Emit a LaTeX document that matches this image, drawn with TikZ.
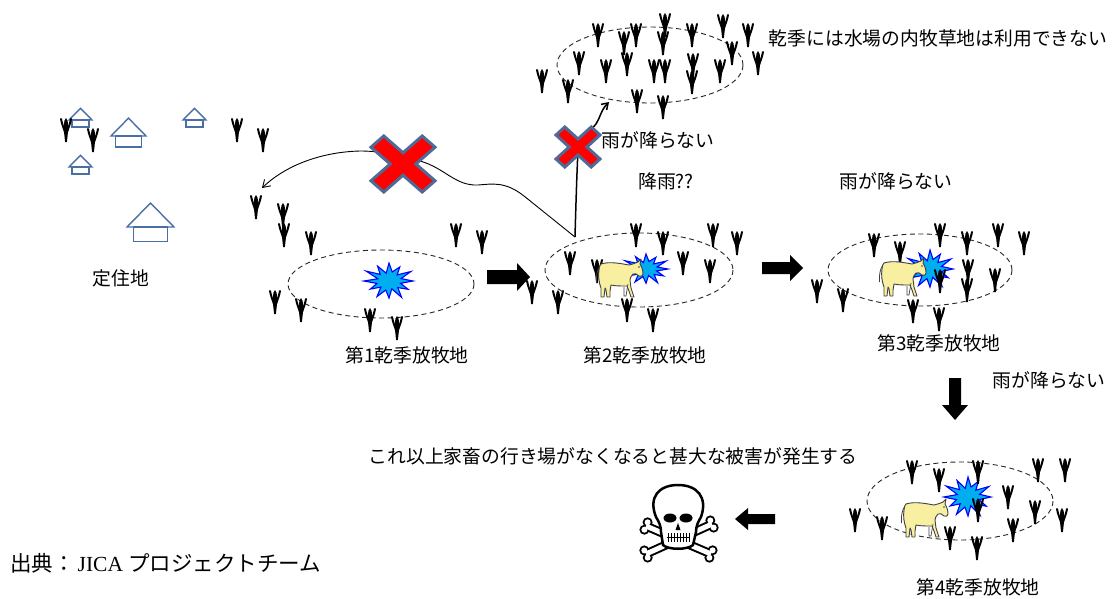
\documentclass[tikz,border=0pt]{standalone}
\usepackage{fontspec}
\newfontfamily\jp{Noto Sans CJK JP}
\newfontfamily\tms{Liberation Serif}
\usetikzlibrary{arrows.meta}
\definecolor{houseblue}{HTML}{4A6FA5}
\definecolor{cowfill}{HTML}{F8F0A0}
\definecolor{xborder}{HTML}{4F6A96}
\begin{document}
\begin{tikzpicture}[x=1pt,y=-1pt,
  lbl/.style={font=\jp\fontsize{18.8}{22}\selectfont, inner sep=0pt},
  zone/.style={draw=black!85, line width=0.9pt, dash pattern=on 5pt off 3.5pt},
  tuft/.pic={
    \fill (-0.9,12) -- (-2.1,1) -- (-1.7,-9) -- (0,-12) -- (1.7,-9) -- (2.1,1) -- (0.9,12) -- cycle;
    \draw[line width=2pt, line cap=round] (-0.5,3) .. controls (-2.5,-2) and (-4,-6) .. (-5,-11);
    \draw[line width=2pt, line cap=round] (0.5,3) .. controls (2.5,-2) and (4,-6) .. (5,-11);
  },
  house/.pic={
    \draw[houseblue, line width=1.4pt, line join=miter] (-1,0) -- (0,-1.02) -- (1,0) -- cycle;
    \draw[houseblue, line width=1.4pt] (-0.73,0) rectangle (0.73,0.62);
  },
  burst/.pic={
    \filldraw[fill=cyan, draw=blue, line width=1.1pt, line join=miter]
      (0:1) -- (15:.5) -- (30:.92) -- (45:.52) -- (60:1.05) -- (75:.45) -- (90:.95)
      -- (105:.52) -- (120:1) -- (135:.48) -- (150:.9) -- (165:.52) -- (180:1.05)
      -- (195:.48) -- (210:1.1) -- (225:.52) -- (240:.95) -- (255:.45) -- (270:1)
      -- (285:.52) -- (300:.9) -- (315:.48) -- (330:1.05) -- (345:.52) -- cycle;
  },
  nogo/.pic={
    \filldraw[fill=red, draw=xborder, line width=3pt, line join=miter]
      (-1,-0.6) -- (-0.6,-1) -- (0,-0.4) -- (0.6,-1) -- (1,-0.6) -- (0.4,0)
      -- (1,0.6) -- (0.6,1) -- (0,0.4) -- (-0.6,1) -- (-1,0.6) -- (-0.4,0) -- cycle;
  },
  cow/.pic={
    \draw[black!75, line width=0.8pt] (5,8) .. controls (2,12) and (1,18) .. (1.5,25);
    \filldraw[fill=cowfill, draw=black!75, line width=0.9pt, line join=round]
      (6,6) .. controls (15,3) and (28,6) .. (34,7)
      .. controls (38,6) and (41,5) .. (43,4) -- (46,1) -- (45,6)
      .. controls (47,9) and (48,13) .. (48,16)
      .. controls (48,18) and (46,19) .. (44,18)
      .. controls (42,16) and (40,15) .. (38,16)
      .. controls (36,18) and (35,20) .. (35,22)
      -- (36,30) -- (38,36) -- (39,39) -- (36,39) -- (34,33) -- (32,28)
      .. controls (25,28) and (20,28) .. (16,27)
      -- (15,33) -- (15,39) -- (12,39) -- (11,32) -- (10,30) -- (9,39) -- (6,39) -- (6,30)
      .. controls (4,25) and (3,18) .. (4,12) .. controls (4,9) and (5,7) .. (6,6) -- cycle;
    \draw[black!75, line width=0.7pt] (33,26) -- (31,38) -- (29,38) -- (29,29);
    \fill[black!75] (44,9) circle (0.8);
  }]

\useasboundingbox[fill=white] (0,0) rectangle (1116,598);

% grazing zones
\draw[zone] (650,65) ellipse [x radius=93, y radius=38];
\draw[zone] (381,284) ellipse [x radius=93, y radius=34];
\draw[zone] (639,270) ellipse [x radius=94, y radius=37];
\draw[zone] (920,270) ellipse [x radius=92, y radius=36];
\draw[zone] (960,501) ellipse [x radius=93, y radius=39];

% houses of the settlement
\pic[scale=11.5] at (80.5,120) {house};
\pic[scale=17.5] at (128.5,136) {house};
\pic[scale=11.5] at (194.5,120) {house};
\pic[scale=11.5] at (80.5,167) {house};
\pic[scale=23.5] at (150.5,227) {house};

% empty grass bursts
\pic[xscale=24,yscale=18] at (389,281) {burst};
\pic[xscale=22,yscale=15] at (646,269) {burst};
\pic[xscale=23,yscale=19] at (930,269) {burst};
\pic[xscale=23,yscale=20] at (968,497) {burst};

% grass
\foreach \p in {(598,35),(624,43),(627,64),(636,35),(665,25),(663,43),(692,35),(723,26),
  (748,35),(732,53),(758,63),(579,63),(606,71),(654,71),(665,71),(693,65),(692,82),(720,71),
  (542,81),(568,91),(637,101),(663,107),
  (66,130),(93,140),(237,130),(263,140),(256,207),(283,215),(284,235),(311,243),(456,235),
  (482,242),(275,302),(301,310),(370,320),(397,328),
  (532,292),(558,302),(570,263),(597,271),(636,235),(663,243),(683,263),(710,271),(713,235),
  (737,243),(627,310),(653,320),
  (874,245),(900,253),(940,235),(967,243),(998,235),(1024,243),(817,291),(843,300),(940,281),
  (968,271),(967,290),(995,280),(913,311),(939,319),
  (912,472),(939,480),(978,472),(1038,470),(1065,470),(978,510),(1008,497),(1035,512),
  (855,520),(882,528),(950,538),(977,548),(1013,530),(1062,520)}
  \pic at \p {tuft};

% cattle
\pic at (595,258) {cow};
\pic at (878,257) {cow};
\pic at (900,498) {cow};

% routes
\coordinate (e2top) at (575,237);
\coordinate (village) at (262,188);
\coordinate (pond) at (609,102);
\draw[line width=0.9pt, -{Straight Barb[length=7pt,width=9pt]}] (e2top) -- (524,196)
  .. controls (505,181) and (492,184) .. (478,185)
  .. controls (455,186) and (445,168) .. (420,161)
  .. controls (400,155) and (380,151) .. (360,151)
  .. controls (320,152) and (285,166) .. (village);
\draw[line width=1.5pt, -{Straight Barb[length=6pt,width=8pt]}] (e2top)
  .. controls (576,200) and (577,170) .. (578,150)
  .. controls (579,135) and (590,132) .. (596,124)
  .. controls (600,118) and (601,110) .. (pond);
\pic[xscale=32,yscale=28] at (403,164) {nogo};
\pic[xscale=22,yscale=20] at (578,147) {nogo};

% block arrows
\fill (487,270) -- (517,270) -- (517,263) -- (530,277) -- (517,291) -- (517,284) -- (487,284) -- cycle;
\fill (762,262) -- (790,262) -- (790,255) -- (803,268) -- (790,281) -- (790,274) -- (762,274) -- cycle;
\fill (949,378) -- (961,378) -- (961,405) -- (968,405) -- (955,420) -- (942,405) -- (949,405) -- cycle;
\fill (775,514) -- (748,514) -- (748,508) -- (735,519) -- (748,530) -- (748,524) -- (775,524) -- cycle;

% skull and crossbones
\draw[line width=9pt] (646,526) -- (711,554) (712,524) -- (646,554);
\foreach \c in {(644.4,529.7),(647.6,522.3),(709.4,557.7),(712.6,550.3),
  (713.7,527.6),(710.3,520.4),(647.7,557.6),(644.3,550.4)}
  \fill \c circle (5);
\draw[white, line width=5pt] (646,526) -- (711,554) (712,524) -- (646,554);
\foreach \c in {(644.4,529.7),(647.6,522.3),(709.4,557.7),(712.6,550.3),
  (713.7,527.6),(710.3,520.4),(647.7,557.6),(644.3,550.4)}
  \fill[white] \c circle (3);
\filldraw[fill=white, draw=black, line width=2.5pt] (656,517)
  .. controls (648,497) and (659,485) .. (678,485)
  .. controls (697,485) and (708,497) .. (701,517)
  .. controls (698,522) and (696,526) .. (696,532) -- (693,545)
  .. controls (688,550) and (668,550) .. (663,545) -- (661,532)
  .. controls (661,526) and (659,522) .. (656,517) -- cycle;
\fill (670,518) ellipse [x radius=6.5, y radius=4.5];
\fill (686,518) ellipse [x radius=6.5, y radius=4.5];
\fill (678,523) -- (675.5,530) -- (680.5,530) -- cycle;
\draw[line width=0.7pt] (667,537) -- (689,537);
\foreach \tx in {668,671,...,689} \draw[line width=0.6pt] (\tx,533) -- (\tx,542);

% labels
\node[lbl] (dryNote) at (938,38) {乾季には水場の内牧草地は利用できない};
\node[lbl] (noRainA) at (658,140) {雨が降らない};
\node[lbl] (rainQ) at (666,181) {降雨??};
\node[lbl] (noRainB) at (896,181) {雨が降らない};
\node[lbl] (settle) at (121,278) {定住地};
\node[lbl] (zone1) at (407,355) {第1乾季放牧地};
\node[lbl] (zone2) at (645,355) {第2乾季放牧地};
\node[lbl] (zone3) at (939,343) {第3乾季放牧地};
\node[lbl] (noRainC) at (1049,380) {雨が降らない};
\node[lbl] (warn) at (613,456) {これ以上家畜の行き場がなくなると甚大な被害が発生する};
\node[lbl] (zone4) at (978,587) {第4乾季放牧地};
\node[inner sep=0pt, anchor=west, font=\fontsize{21.5}{24}\selectfont] (src) at (10,563)
  {\jp 出典：\hspace{3pt}\tms JICA \jp プロジェクトチーム};
\end{tikzpicture}
\end{document}
